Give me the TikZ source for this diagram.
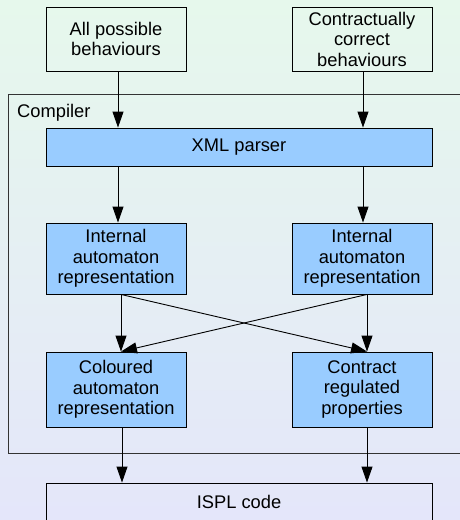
\documentclass[tikz,border=0pt]{standalone}
\usepackage{fontspec}
\setmainfont{Liberation Sans}
\usetikzlibrary{arrows.meta}
\definecolor{bgtop}{RGB}{230,248,236}
\definecolor{bgbot}{RGB}{228,230,250}
\definecolor{stepfill}{RGB}{153,204,255}
\tikzset{
  txt/.style={font=\fontsize{18.3}{20.5}\selectfont, align=center, inner sep=0pt},
  plainbox/.style={txt, draw=black, line width=0.9pt, minimum width=140pt},
  bluebox/.style={plainbox, fill=stepfill},
  arr/.style={line width=0.9pt, -{Triangle[width=11pt,length=16pt]}},
  frame/.style={draw=black!80, line width=0.9pt}
}
\begin{document}
\begin{tikzpicture}[x=1pt,y=-1pt]
  \useasboundingbox (0,0) rectangle (460,520);
  \clip (0,0) rectangle (460,520);
  \shade[top color=bgtop, bottom color=bgbot] (0,0) rectangle (460,520);

  % compiler frame (runs past the right edge)
  \draw[frame] (8,94) rectangle (480,453);
  \node[txt, anchor=base west] (comp) at (17,117) {Compiler};

  % inputs
  \node[plainbox, minimum height=64pt] (top1) at (116,39) {All possible\\behaviours};
  \node[plainbox, minimum height=64pt] (top2) at (362,39) {Contractually\\correct\\behaviours};

  % compiler stages
  \node[bluebox, minimum width=386pt, minimum height=38pt] (xml) at (239,147) {XML parser};
  \node[bluebox, minimum height=71pt] (int1) at (116,258.5) {Internal\\automaton\\representation};
  \node[bluebox, minimum height=71pt] (int2) at (362,258.5) {Internal\\automaton\\representation};
  \node[bluebox, minimum height=75pt] (col1) at (116,389.5) {Coloured\\automaton\\representation};
  \node[bluebox, minimum height=75pt] (col2) at (362,389.5) {Contract\\regulated\\properties};

  % output
  \node[plainbox, minimum width=386pt, minimum height=38pt] (ispl) at (239,502) {ISPL code};

  % connectors
  \draw[arr] ([xshift=2pt]top1.south) -- ([xshift=-121pt]xml.north);
  \draw[arr] ([xshift=1pt]top2.south) -- ([xshift=124pt]xml.north);
  \draw[arr] ([xshift=-121pt]xml.south) -- ([xshift=2pt]int1.north);
  \draw[arr] ([xshift=124pt]xml.south) -- ([xshift=1pt]int2.north);

  \draw[arr] ([xshift=5pt]int1.south) -- ([xshift=5pt]col1.north);
  \draw[arr] ([xshift=5pt]int2.south) -- ([xshift=5pt]col2.north);
  \draw[arr] ([xshift=5pt]int1.south) -- ([xshift=5pt]col2.north);
  \draw[arr] ([xshift=5pt]int2.south) -- ([xshift=5pt]col1.north);

  \draw[arr] ([xshift=6pt]col1.south) -- ([xshift=-117pt]ispl.north);
  \draw[arr] ([xshift=5pt]col2.south) -- ([xshift=128pt]ispl.north);
\end{tikzpicture}
\end{document}
